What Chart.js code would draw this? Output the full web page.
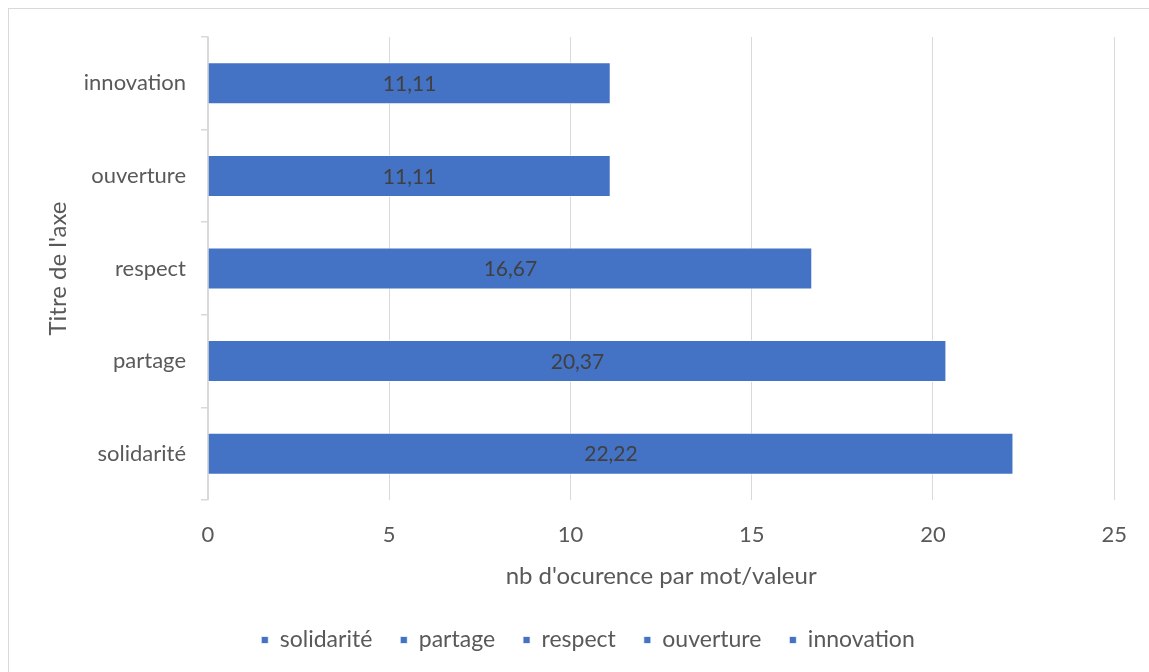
<!DOCTYPE html>
<html>
<head>
<meta charset="utf-8">
<script src="https://cdn.jsdelivr.net/npm/chart.js@4.4.1/dist/chart.umd.min.js"></script>
<style>
  html, body { margin: 0; padding: 0; background: #ffffff; overflow: hidden; }
  #wrap { position: relative; width: 1149px; height: 672px; }
  #frame { position: absolute; left: 8px; top: 8px; width: 1200px; height: 700px;
           border-left: 1.5px solid #d9d9d9; border-top: 1.5px solid #d9d9d9; box-sizing: border-box; }
  canvas { position: absolute; left: 0; top: 0; }
</style>
</head>
<body>
<div id="wrap">
  <div id="frame"></div>
  <canvas id="c" width="1149" height="672"></canvas>
</div>
<script>
const categories = ['innovation', 'ouverture', 'respect', 'partage', 'solidarité'];
const seriesNames = ['solidarité', 'partage', 'respect', 'ouverture', 'innovation'];
const seriesValues = [22.22, 20.37, 16.67, 11.11, 11.11];
const xTickValues = [0, 5, 10, 15, 20, 25];
const xAxisTitle = "nb d'ocurence par mot/valeur";
const yAxisTitle = "Titre de l'axe";

const FONT = 'Lato, "Open Sans", sans-serif';
const BLUE = '#4472C4';
const GREY_TEXT = '#595959';
const GRID = '#d9d9d9';

const datasets = seriesNames.map((name, i) => ({
  label: name,
  data: categories.map(c => (c === name ? seriesValues[i] : null)),
  backgroundColor: BLUE,
  borderColor: 'rgba(255,255,255,0.7)',
  borderWidth: 1,
  categoryPercentage: 1,
  barPercentage: 0.454
}));

const dataLabels = {
  id: 'dataLabels',
  afterDatasetsDraw(chart) {
    const ctx = chart.ctx;
    ctx.save();
    ctx.font = '21px ' + FONT;
    ctx.fillStyle = '#404040';
    ctx.textAlign = 'center';
    ctx.textBaseline = 'middle';
    chart.data.datasets.forEach((ds, di) => {
      const meta = chart.getDatasetMeta(di);
      meta.data.forEach((el, idx) => {
        const v = ds.data[idx];
        if (v === null || v === undefined) return;
        const txt = v.toFixed(2).replace('.', ',');
        ctx.fillText(txt, (el.x + el.base) / 2, el.y + 1);
      });
    });
    ctx.restore();
  }
};

// shift the legend box so that it is centred like the original
const legendShift = {
  id: 'legendShift',
  afterLayout(chart) {
    if (chart.legend) {
      chart.legend.left += 29;
      chart.legend.right += 29;
    }
  }
};

new Chart(document.getElementById('c'), {
  type: 'bar',
  data: { labels: categories, datasets },
  plugins: [dataLabels, legendShift],
  options: {
    responsive: false,
    animation: false,
    devicePixelRatio: 1,
    indexAxis: 'y',
    layout: { padding: { left: 0, top: 37, right: 31, bottom: 10.5 } },
    plugins: {
      tooltip: { enabled: false },
      legend: {
        position: 'bottom',
        labels: {
          color: GREY_TEXT,
          font: { family: FONT, size: 23 },
          boxWidth: 7,
          boxHeight: 7,
          padding: 28
        }
      }
    },
    scales: {
      x: {
        stacked: true,
        min: 0,
        max: 25,
        afterBuildTicks(scale) { scale.ticks = xTickValues.map(v => ({ value: v })); },
        ticks: { color: GREY_TEXT, font: { family: FONT, size: 22 }, padding: 22 },
        grid: { color: GRID, lineWidth: 1, drawTicks: false },
        border: { display: false },
        title: {
          display: true, text: xAxisTitle, color: GREY_TEXT,
          font: { family: FONT, size: 24 }, padding: { top: 0, bottom: 10 }
        },
        afterFit(scale) { scale.height = 100.5; }
      },
      y: {
        stacked: true,
        ticks: { color: GREY_TEXT, font: { family: FONT, size: 22 }, padding: 15 },
        grid: { color: GRID, lineWidth: 1.5, drawOnChartArea: false, drawTicks: true, tickLength: 7, offset: true },
        border: { display: true, color: GRID, width: 1.5 },
        title: {
          display: true, text: yAxisTitle, color: GREY_TEXT,
          font: { family: FONT, size: 24 }, padding: { top: 43.6, bottom: 0 }
        },
        afterFit(scale) { scale.width = 208; }
      }
    }
  }
});
</script>
</body>
</html>
